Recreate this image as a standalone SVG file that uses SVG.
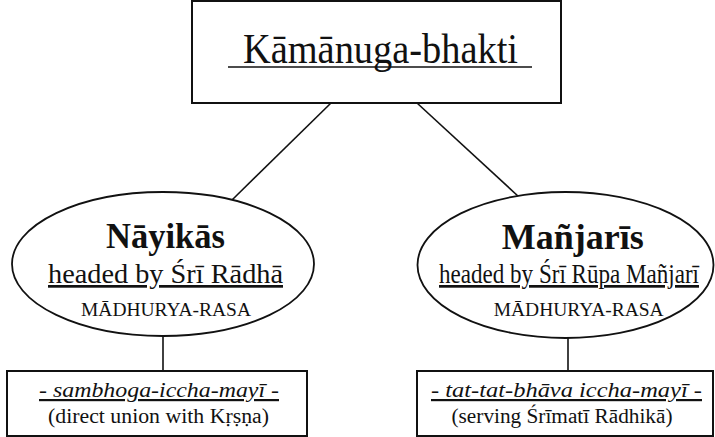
<svg xmlns="http://www.w3.org/2000/svg" width="715" height="437" viewBox="0 0 715 437">
<style>
.shape{fill:#fff;stroke:#111;stroke-width:2}
.oval{fill:#fff;stroke:#111;stroke-width:1.8}
.conn{stroke:#111;stroke-width:1.6;fill:none}
text{font-family:"Liberation Serif","Times New Roman",serif;fill:#111;text-anchor:middle}
.title{font-size:42px}
.head{font-size:36px;font-weight:bold}
.sub{font-size:27px;text-decoration:underline}
.rasa{font-size:19px}
.it{font-size:22px;font-style:italic;text-decoration:underline}
.note{font-size:20px}
</style>
<rect width="715" height="437" fill="#fff"/>
<g id="connectors">
<line class="conn" x1="331" y1="103" x2="232" y2="200"/>
<line class="conn" x1="417" y1="103" x2="519" y2="197"/>
<line class="conn" x1="163" y1="336" x2="163" y2="371"/>
<line class="conn" x1="568" y1="338" x2="568" y2="371"/>
</g>
<g id="kamanuga">
<rect class="shape" x="192" y="1" width="369" height="102"/>
<text class="title" x="380.5" y="63" textLength="275" lengthAdjust="spacingAndGlyphs">Kāmānuga-bhakti</text>
<line x1="228" y1="67" x2="532" y2="67" stroke="#111" stroke-width="1.5"/>
</g>
<g id="nayikas">
<ellipse class="oval" cx="163" cy="264" rx="151" ry="72"/>
<text class="head" x="165.5" y="248" textLength="119" lengthAdjust="spacingAndGlyphs">Nāyikās</text>
<text class="sub" x="165.5" y="283" textLength="235" lengthAdjust="spacingAndGlyphs">headed by Śrī Rādhā</text>
<text class="rasa" x="166" y="316" textLength="170" lengthAdjust="spacingAndGlyphs">MĀDHURYA-RASA</text>
</g>
<g id="manjaris">
<ellipse class="oval" cx="565.5" cy="265" rx="148" ry="73"/>
<text class="head" x="572.7" y="249" textLength="142" lengthAdjust="spacingAndGlyphs">Mañjarīs</text>
<text class="sub" x="569" y="283" textLength="260" lengthAdjust="spacingAndGlyphs">headed by Śrī Rūpa Mañjarī</text>
<text class="rasa" x="578.7" y="316" textLength="170" lengthAdjust="spacingAndGlyphs">MĀDHURYA-RASA</text>
</g>
<g id="sambhoga">
<rect class="shape" x="7" y="371" width="300" height="65"/>
<text class="it" x="159" y="397" textLength="240" lengthAdjust="spacingAndGlyphs">- sambhoga-iccha-mayī -</text>
<text class="note" x="158.5" y="423" textLength="221" lengthAdjust="spacingAndGlyphs">(direct union with Kṛṣṇa)</text>
</g>
<g id="tattat">
<rect class="shape" x="417" y="371" width="296" height="65"/>
<text class="it" x="566.5" y="397" textLength="271" lengthAdjust="spacingAndGlyphs">- tat-tat-bhāva iccha-mayī -</text>
<text class="note" x="562" y="423" textLength="221" lengthAdjust="spacingAndGlyphs">(serving Śrīmatī Rādhikā)</text>
</g>
</svg>
